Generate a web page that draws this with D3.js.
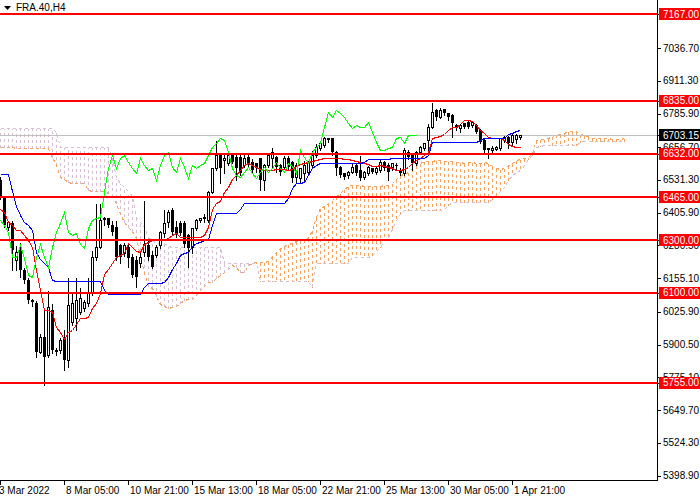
<!DOCTYPE html>
<html>
<head>
<meta charset="utf-8">
<script src="https://cdn.jsdelivr.net/npm/d3@7"></script>
<style>
  body { margin: 0; background: #fff; }
  svg { display: block; }
  text { font-family: "Liberation Sans", Arial, sans-serif; font-size: 10px; }
</style>
</head>
<body>
<svg id="chart" width="700" height="500"></svg>
<script>
const symbol = "FRA.40,H4";

// H4 candles, bar 0 = 3 Mar 2022 13:00
const opens = [6530,6461,6352,6365,6225,6276,6186,6148,6071,6059,5873,5931,5861,6033,5880,5880,5930,5841,5988,6001,
  6027,6040,6059,6097,6237,6276,6384,6384,6359,6350,6282,6250,6276,6237,6225,6212,6257,6282,6244,6244,
  6282,6327,6372,6416,6352,6365,6365,6320,6276,6346,6378,6384,6378,6486,6576,6627,6608,6595,6627,6620,
  6620,6589,6620,6601,6595,6614,6531,6589,6614,6621,6589,6582,6614,6601,6544,6538,6557,6563,6589,6627,
  6652,6665,6694,6691,6640,6582,6557,6550,6563,6589,6570,6544,6557,6576,6563,6570,6601,6589,6582,6590,
  6570,6557,6640,6633,6595,6640,6652,6684,6736,6800,6774,6803,6787,6780,6742,6729,6748,6755,6742,6742,
  6723,6684,6652,6646,6650,6652,6684,6697,6678,6690,6697];
const highs = [6545,6467,6380,6378,6282,6295,6200,6160,6080,6071,5944,6046,6110,6060,5890,5930,5960,6161,6097,6161,
  6120,6075,6161,6263,6442,6442,6395,6390,6378,6378,6290,6295,6285,6250,6244,6257,6454,6300,6263,6288,
  6340,6422,6422,6429,6378,6378,6378,6327,6352,6384,6390,6403,6493,6582,6684,6633,6633,6640,6640,6640,
  6633,6640,6633,6614,6601,6620,6595,6640,6659,6627,6595,6627,6627,6608,6601,6582,6608,6608,6646,6672,
  6678,6700,6697,6697,6646,6589,6563,6570,6595,6595,6627,6570,6589,6582,6585,6614,6608,6601,6601,6600,
  6582,6659,6650,6640,6646,6665,6678,6748,6831,6806,6812,6806,6793,6787,6748,6748,6755,6761,6761,6748,
  6729,6691,6659,6665,6665,6697,6703,6703,6710,6710,6708];
const lows = [6460,6352,6340,6186,6186,6160,6135,6059,6050,5854,5867,5746,5854,5870,5860,5870,5803,5816,5976,5956,
  6020,6030,6050,6090,6225,6270,6360,6350,6320,6225,6212,6240,6199,6160,6122,6199,6240,6225,6193,6238,
  6270,6314,6352,6320,6314,6320,6276,6199,6250,6340,6370,6372,6372,6480,6570,6518,6557,6589,6595,6531,
  6550,6580,6582,6557,6560,6493,6493,6582,6582,6563,6550,6576,6570,6525,6525,6518,6531,6550,6580,6620,
  6646,6659,6678,6627,6550,6544,6537,6540,6557,6550,6531,6537,6550,6557,6555,6563,6570,6531,6570,6575,
  6550,6550,6610,6570,6589,6633,6646,6640,6729,6761,6768,6780,6761,6697,6723,6716,6730,6729,6736,6710,
  6672,6640,6614,6633,6645,6646,6678,6652,6665,6672,6690];
const closes = [6470,6359,6371,6263,6257,6186,6148,6071,6065,5873,5931,5854,6046,5880,5873,5918,5841,6052,6059,6071,
  6078,6065,6097,6237,6276,6378,6378,6359,6333,6237,6237,6282,6231,6167,6161,6237,6286,6237,6199,6276,
  6333,6365,6410,6333,6320,6327,6288,6269,6346,6378,6384,6390,6486,6576,6627,6576,6614,6627,6601,6576,
  6557,6614,6589,6570,6576,6531,6589,6627,6640,6582,6563,6614,6582,6538,6589,6576,6589,6595,6627,6659,
  6672,6691,6684,6640,6576,6550,6544,6563,6582,6557,6538,6563,6582,6563,6576,6601,6576,6563,6595,6583,
  6557,6646,6620,6595,6640,6659,6672,6736,6793,6774,6800,6787,6774,6748,6729,6742,6736,6736,6755,6716,
  6678,6646,6646,6652,6659,6691,6697,6672,6703,6703,6703.15];

// Ichimoku lines
const tenkan = [6422,6410,6371,6359,6340,6340,6320,6301,6276,6186,6110,6033,6033,6027,5969,5950,5924,5950,5956,5980,
  6001,6004,6007,6040,6060,6097,6170,6190,6215,6237,6244,6250,6290,6276,6260,6257,6285,6295,6301,6301,
  6301,6301,6310,6320,6327,6314,6314,6314,6314,6314,6314,6320,6352,6420,6445,6450,6485,6505,6535,6550,
  6570,6590,6597,6590,6580,6572,6570,6570,6570,6572,6575,6572,6570,6575,6585,6592,6595,6601,6603,6608,
  6610,6614,6614,6617,6617,6614,6612,6610,6606,6603,6601,6597,6592,6584,6586,6588,6584,6582,6576,6570,
  6570,6575,6582,6598,6606,6615,6627,6640,6691,6695,6699,6708,6723,6736,6736,6745,6760,6762,6757,6740,
  6722,6710,6697,6693,6693,6693,6686,6670,6662,6659,6659];
const kijun = [6554,6554,6554,6490,6430,6397,6371,6360,6340,6257,6230,6212,6199,6148,6144,6144,6144,6144,6144,6144,
  6144,6144,6144,6144,6144,6144,6110,6094,6094,6094,6094,6094,6094,6094,6094,6094,6122,6135,6135,6135,
  6135,6140,6160,6190,6215,6244,6250,6257,6280,6290,6295,6301,6305,6360,6403,6403,6403,6403,6403,6403,
  6422,6442,6442,6442,6442,6442,6442,6442,6442,6442,6442,6442,6461,6499,6518,6520,6525,6550,6576,6588,
  6595,6595,6595,6595,6595,6595,6595,6595,6595,6595,6595,6600,6610,6610,6610,6610,6610,6610,6614,6614,
  6614,6614,6614,6614,6614,6614,6614,6627,6678,6678,6678,6678,6678,6678,6678,6678,6678,6678,6678,6678,
  6685,6691,6691,6691,6691,6691,6691,6706,6712,6718,6723];
const spanA = [6658,6658,6658,6658,6652,6652,6652,6652,6652,6652,6652,6652,6652,6620,6590,6543,6535,6525,6520,6520,
  6520,6520,6493,6490,6490,6490,6488,6482,6470,6445,6400,6372,6352,6335,6308,6240,6175,6125,6116,6088,
  6058,6047,6040,6045,6048,6062,6072,6074,6076,6092,6110,6125,6140,6142,6155,6166,6180,6190,6205,6200,
  6180,6180,6204,6215,6218,6218,6218,6221,6240,6255,6271,6279,6285,6289,6297,6302,6305,6311,6340,6390,
  6424,6430,6444,6454,6469,6480,6496,6510,6512,6512,6511,6510,6510,6510,6510,6510,6512,6514,6518,6537,
  6552,6556,6562,6576,6590,6598,6603,6605,6605,6606,6606,6605,6604,6603,6601,6599,6598,6599,6601,6597,
  6598,6599,6595,6585,6578,6575,6578,6590,6598,6606,6610,6615,6620,6634,6685,6687,6689,6693,6701,6707,
  6707,6712,6719,6720,6718,6709,6704,6701,6694,6692,6692,6692,6692,6688,6687,6689,6691];
const spanB = [6731,6731,6731,6731,6731,6731,6731,6731,6731,6731,6731,6731,6731,6731,6716,6659,6659,6659,6659,6659,
  6659,6659,6659,6659,6659,6659,6659,6659,6620,6540,6518,6505,6490,6470,6390,6370,6352,6313,6300,6290,
  6290,6290,6280,6276,6276,6276,6276,6276,6276,6276,6276,6276,6276,6276,6276,6276,6212,6212,6212,6212,
  6212,6212,6212,6212,6212,6145,6145,6145,6145,6145,6145,6145,6145,6145,6145,6145,6145,6145,6120,6212,
  6212,6212,6212,6212,6212,6212,6212,6212,6237,6237,6237,6237,6237,6244,6260,6276,6300,6314,6345,6380,
  6400,6416,6416,6416,6416,6416,6416,6416,6416,6416,6416,6420,6435,6448,6448,6448,6448,6448,6448,6448,
  6448,6448,6448,6460,6474,6490,6506,6531,6550,6560,6570,6590,6610,6627,6659,6662,6665,6665,6665,6665,
  6665,6667,6667,6667,6667,6675,6680,6680,6680,6680,6680,6680,6680,6680,6680,6680,6680];
const chikouShift = 26;

// horizontal levels and price axis
const levels = [7167, 6835, 6632, 6465, 6300, 6100, 5755];
const bid = 6703.15;
const priceTicks = [7036.70, 6911.30, 6785.90, 6656.70, 6531.30, 6405.90, 6280.50, 6155.10, 6025.90, 5900.50, 5775.10, 5649.70, 5524.30, 5398.90];
const timeTickBars = [0, 16, 32, 48, 64, 80, 96, 112, 128];
const timeTickLabels = ["3 Mar 2022", "8 Mar 05:00", "10 Mar 21:00", "15 Mar 13:00", "18 Mar 05:00", "22 Mar 21:00", "25 Mar 13:00", "30 Mar 05:00", "1 Apr 21:00"];

const plotR = 657, plotB = 480;
const svg = d3.select("#chart");

const x = d3.scaleLinear().domain([0, 130]).range([0, 520]);
const y = d3.scaleLinear().domain([5755, 7167]).range([382.7, 14]);
const px = i => Math.round(x(i)) + 0.5;
const py = v => Math.round(y(v)) + 0.5;

const defs = svg.append("defs");
defs.append("clipPath").attr("id", "plot")
  .append("rect").attr("x", 0).attr("y", 0).attr("width", plotR).attr("height", plotB);

const plot = svg.append("g").attr("clip-path", "url(#plot)");

// cloud: dotted histogram between the two spans
const cloud = plot.append("g").attr("shape-rendering", "crispEdges");
spanA.forEach((a, i) => {
  const b = spanB[i];
  cloud.append("line")
    .attr("x1", px(i)).attr("x2", px(i))
    .attr("y1", py(a)).attr("y2", py(b))
    .attr("stroke", a >= b ? "#F4A460" : "#D8BFD8")
    .attr("stroke-dasharray", "3,3");
});
const stepLine = d3.line().x((d, i) => px(i)).y(d => py(d));
plot.append("path").attr("d", stepLine(spanB)).attr("fill", "none")
  .attr("stroke", "#D8BFD8").attr("stroke-dasharray", "3,3").attr("shape-rendering", "crispEdges");
plot.append("path").attr("d", stepLine(spanA)).attr("fill", "none")
  .attr("stroke", "#F4A460").attr("stroke-dasharray", "3,3").attr("shape-rendering", "crispEdges");

// bid line
plot.append("line").attr("x1", 0).attr("x2", plotR).attr("y1", py(bid)).attr("y2", py(bid))
  .attr("stroke", "#C0C0C0").attr("shape-rendering", "crispEdges");

// candles
const candles = plot.append("g").attr("shape-rendering", "crispEdges");
opens.forEach((o, i) => {
  const c = closes[i];
  const g = candles.append("g");
  g.append("line")
    .attr("x1", px(i)).attr("x2", px(i))
    .attr("y1", py(highs[i])).attr("y2", py(lows[i]))
    .attr("stroke", "#000");
  const top = Math.round(y(Math.max(o, c))), bot = Math.round(y(Math.min(o, c)));
  if (c >= o) {
    g.append("rect")
      .attr("x", Math.round(x(i)) - 0.5).attr("y", top + 0.5)
      .attr("width", 2).attr("height", Math.max(bot - top, 1))
      .attr("fill", "#fff").attr("stroke", "#000");
  } else {
    g.append("rect")
      .attr("x", Math.round(x(i)) - 1).attr("y", top)
      .attr("width", 3).attr("height", Math.max(bot - top, 1))
      .attr("fill", "#000");
  }
});

// indicator lines
const lineGen = d3.line().x(d => px(d[0])).y(d => py(d[1]));
plot.append("path").attr("d", lineGen(tenkan.map((v, i) => [i, v])))
  .attr("fill", "none").attr("stroke", "#FF0000").attr("shape-rendering", "crispEdges");
plot.append("path").attr("d", lineGen(kijun.map((v, i) => [i, v])))
  .attr("fill", "none").attr("stroke", "#0000FF").attr("shape-rendering", "crispEdges");
plot.append("path").attr("d", lineGen(closes.slice(chikouShift).map((v, i) => [i, v])))
  .attr("fill", "none").attr("stroke", "#00FF00").attr("shape-rendering", "crispEdges");

// horizontal levels
plot.selectAll(".level").data(levels).enter().append("line")
  .attr("class", "level")
  .attr("x1", 0).attr("x2", plotR)
  .attr("y1", d => Math.round(y(d))).attr("y2", d => Math.round(y(d)))
  .attr("stroke", "#FF0000").attr("stroke-width", 2).attr("shape-rendering", "crispEdges");

// frame
svg.append("line").attr("x1", plotR + 0.5).attr("x2", plotR + 0.5).attr("y1", 0).attr("y2", plotB + 0.5)
  .attr("stroke", "#000").attr("shape-rendering", "crispEdges");
svg.append("line").attr("x1", 0).attr("x2", plotR + 0.5).attr("y1", plotB + 0.5).attr("y2", plotB + 0.5)
  .attr("stroke", "#000").attr("shape-rendering", "crispEdges");

// price axis: tick labels first, level boxes drawn over them (as in the terminal)
const axisR = svg.append("g").attr("shape-rendering", "crispEdges");
const boxes = levels.map(v => ({ v, fill: "#FF0000" })).concat([{ v: bid, fill: "#000" }]);
const boxTop = v => Math.round(y(v)) - 6;
priceTicks.forEach((v, k) => {
  axisR.append("line").attr("x1", plotR).attr("x2", plotR + 4)
    .attr("y1", py(v)).attr("y2", py(v)).attr("stroke", "#000");
  // cut a label where a level box covers it
  const hit = boxes.find(d => Math.abs(y(d.v) - y(v)) < 12);
  const t = axisR.append("text").attr("x", 663).attr("y", y(v)).attr("dy", "0.35em")
    .attr("fill", "#000").text(v.toFixed(2));
  if (hit) {
    const id = "tc" + k;
    const top = y(v) - 7, boxT = boxTop(hit.v);
    const r = defs.append("clipPath").attr("id", id).append("rect").attr("x", 659).attr("width", 41);
    if (y(v) < y(hit.v)) r.attr("y", top).attr("height", Math.max(boxT - top, 0));
    else r.attr("y", boxT + 12).attr("height", 8);
    t.attr("clip-path", `url(#${id})`);
  }
});
boxes.forEach(d => {
  axisR.append("line").attr("x1", plotR).attr("x2", plotR + 4)
    .attr("y1", py(d.v)).attr("y2", py(d.v)).attr("stroke", "#000");
  axisR.append("rect").attr("x", 659).attr("y", boxTop(d.v))
    .attr("width", 41).attr("height", 12).attr("fill", d.fill);
  axisR.append("text").attr("x", 663).attr("y", y(d.v)).attr("dy", "0.35em")
    .attr("fill", "#fff").text(d.v.toFixed(2));
});

// time axis
timeTickBars.forEach((b, k) => {
  svg.append("line").attr("x1", px(b)).attr("x2", px(b)).attr("y1", plotB).attr("y2", plotB + 5)
    .attr("stroke", "#000").attr("shape-rendering", "crispEdges");
  svg.append("text").attr("x", x(b) + (k === 0 ? -1 : 2)).attr("y", 494)
    .attr("fill", "#000").text(timeTickLabels[k]);
});

// title
svg.append("path").attr("d", "M4,6 L11,6 L7.5,10 Z").attr("fill", "#000");
svg.append("text").attr("x", 16).attr("y", 11).attr("fill", "#000").text(symbol);
</script>
</body>
</html>
